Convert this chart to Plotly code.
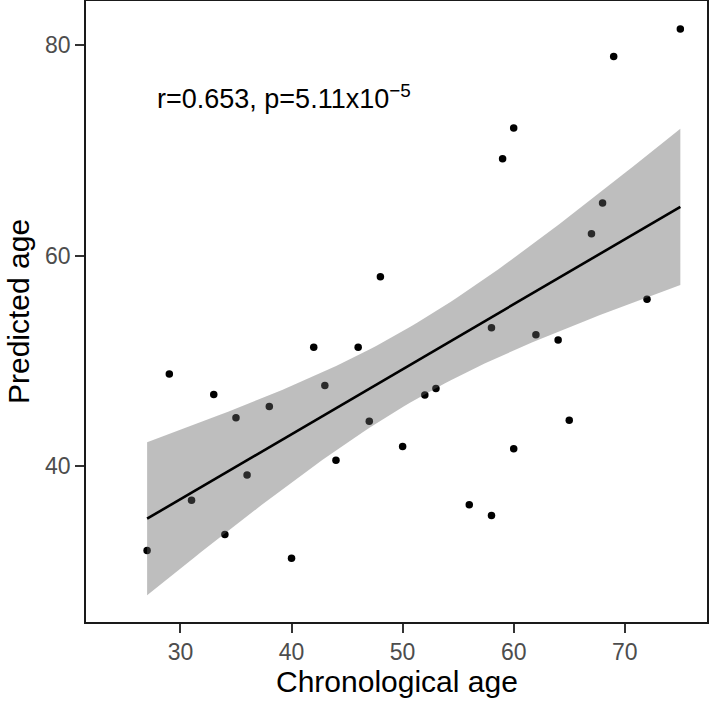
import numpy as np
import plotly.graph_objects as go

# Data
chronological_age = [27, 29, 31, 33, 34, 35, 36, 38, 40, 42, 43, 44, 46, 47, 48, 50,
                     52, 53, 56, 58, 58, 59, 60, 60, 62, 64, 65, 67, 68, 69, 72, 75]
predicted_age = [32.0, 48.75, 36.75, 46.8, 33.5, 44.6, 39.15, 45.66, 31.25, 51.3, 47.65, 40.57,
                 51.28, 44.27, 57.98, 41.87, 46.76, 47.37, 36.33, 53.15, 35.32, 69.2, 72.1, 41.64,
                 52.48, 51.97, 44.36, 62.06, 65.0, 78.9, 55.86, 81.52]
x_ticks = [30, 40, 50, 60, 70]
y_ticks = [40, 60, 80]
stat_label = "r=0.653, p=5.11x10<sup>−5</sup>"
x_title = "Chronological age"
y_title = "Predicted age"

x = np.array(chronological_age, dtype=float)
y = np.array(predicted_age, dtype=float)
n = len(x)
slope, intercept = np.polyfit(x, y, 1)
xs = np.linspace(x.min(), x.max(), 80)
ys = intercept + slope * xs
resid = y - (intercept + slope * x)
s = np.sqrt(np.sum(resid ** 2) / (n - 2))
sxx = np.sum((x - x.mean()) ** 2)
se = s * np.sqrt(1 / n + (xs - x.mean()) ** 2 / sxx)
tcrit = 2.042  # t(0.975, df=30)
upper = ys + tcrit * se
lower = ys - tcrit * se

FONT = "Liberation Sans, Arial, Helvetica"

fig = go.Figure()
fig.add_trace(go.Scatter(x=x, y=y, mode="markers",
                         marker=dict(color="black", size=7.5), showlegend=False))
fig.add_trace(go.Scatter(x=np.concatenate([xs, xs[::-1]]),
                         y=np.concatenate([upper, lower[::-1]]),
                         fill="toself", fillcolor="rgba(100,100,100,0.42)",
                         line=dict(width=0), mode="lines", showlegend=False,
                         hoverinfo="skip"))
fig.add_trace(go.Scatter(x=xs, y=ys, mode="lines",
                         line=dict(color="black", width=2.6), showlegend=False))

fig.add_annotation(x=27.7, y=75.1, xref="x", yref="y", text=stat_label,
                   showarrow=False, xanchor="left", yanchor="middle",
                   font=dict(family=FONT, size=27, color="black"))

# axis titles
fig.add_annotation(x=0.5, y=-0.0966, xref="paper", yref="paper", text=x_title,
                   showarrow=False, xanchor="center", yanchor="middle",
                   font=dict(family=FONT, size=30, color="black"))
fig.add_annotation(x=-0.1087, y=0.5, xref="paper", yref="paper", text=y_title,
                   showarrow=False, xanchor="center", yanchor="middle", textangle=-90,
                   font=dict(family=FONT, size=30, color="black"))

axis_common = dict(showline=True, mirror=True, linecolor="#1a1a1a", linewidth=1.6,
                   ticks="outside", ticklen=9, tickwidth=1.6, tickcolor="#333333",
                   showgrid=False, zeroline=False, automargin=False,
                   tickfont=dict(family=FONT, size=23, color="#4d4d4d"))

fig.update_xaxes(range=[21.5, 77.4], tickvals=x_ticks, **axis_common)
fig.update_yaxes(range=[25.2, 84.17], tickvals=y_ticks, **axis_common)

fig.update_layout(width=709, height=705, plot_bgcolor="white", paper_bgcolor="white",
                  margin=dict(l=86, r=2, t=1, b=83))

fig.write_html("out.html", config={"displayModeBar": False},
               post_script="document.body.style.margin='0';document.body.style.overflow='hidden';")
